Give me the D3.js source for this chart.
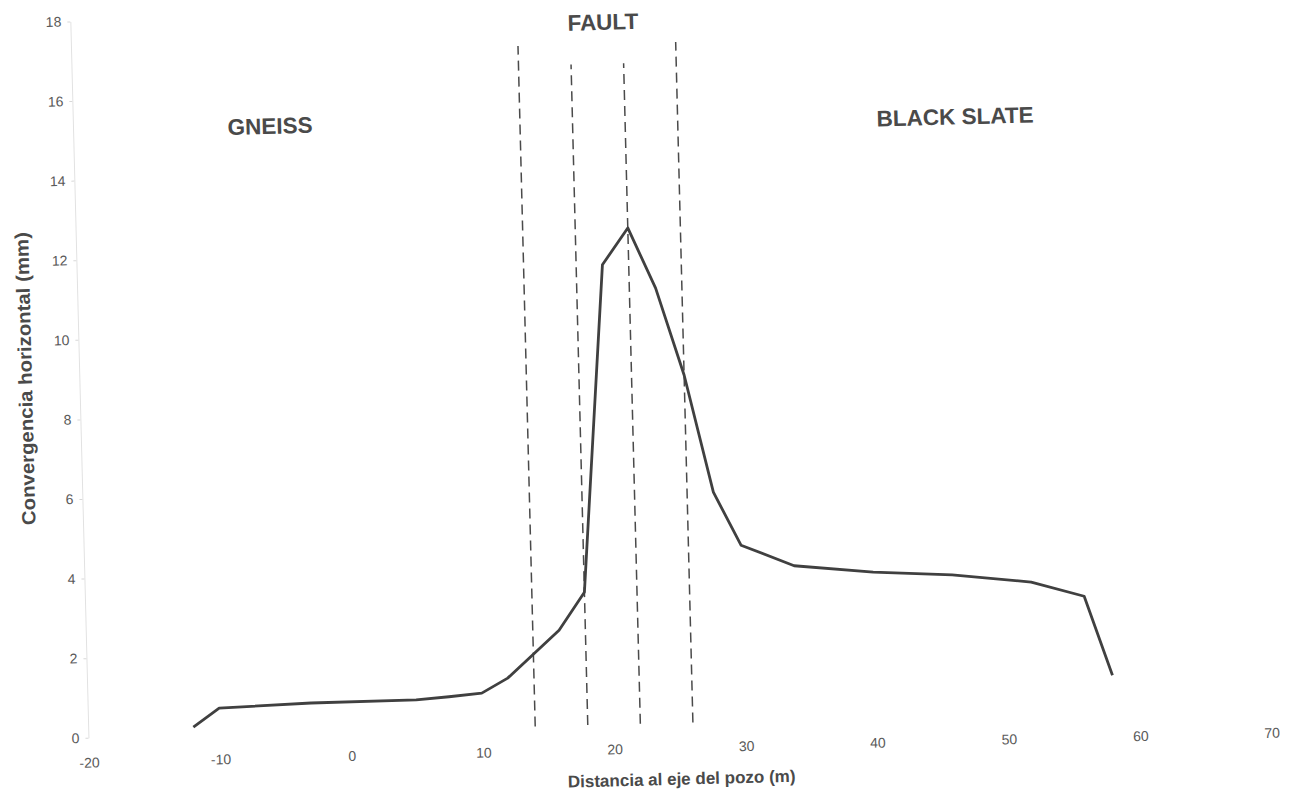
<!DOCTYPE html>
<html>
<head>
<meta charset="utf-8">
<script src="https://cdn.jsdelivr.net/npm/d3@7"></script>
<style>
  html, body { margin: 0; padding: 0; background: #fff; }
  svg { display: block; font-family: "Liberation Sans", Arial, sans-serif; }
  .axis .domain { stroke: #e2e2e2; }
  .axis line { stroke: #d8d8d8; }
  .axis text { fill: #5a5a5a; font-size: 14px; }
</style>
</head>
<body>
<div id="chart"></div>
<script>
/* Convergencia horizontal vs distancia al eje del pozo (scan, slightly tilted) */

const distance    = [-12, -10, -3, 5, 7.5, 10, 12, 16, 18, 20, 22, 24, 26, 28, 30, 34, 40, 46, 52, 56, 58];
const convergence = [0.2, 0.66, 0.73, 0.74, 0.8, 0.87, 1.23, 2.4, 3.34, 11.55, 12.46, 10.93, 8.73, 5.77, 4.42, 3.87, 3.66, 3.54, 3.31, 2.92, 0.92];

const faultLines = [14, 18, 22, 26];
const faultTops  = [17.1, 16.6, 16.6, 17.1];

const xTicks = [-20, -10, 0, 10, 20, 30, 40, 50, 60, 70];
const yTicks = [0, 2, 4, 6, 8, 10, 12, 14, 16, 18];

const zoneLabels = ["GNEISS", "FAULT", "BLACK SLATE"];
const zoneX      = [-5.0, 20.5, 47.1];
const zoneY      = [15.2, 17.6, 15.0];

const W = 1292, H = 795;
const svg = d3.select("#chart").append("svg").attr("width", W).attr("height", H);
svg.append("rect").attr("width", W).attr("height", H).attr("fill", "#fff");

/* the scanned page is tilted a little */
const g = svg.append("g").attr("transform", "rotate(-1.45, 646, 397)");

const x = d3.scaleLinear().domain([-20, 70]).range([80, 1263]);
const y = d3.scaleLinear().domain([0, 18]).range([723.5, 7]);

/* ejes */
g.append("g").attr("class", "axis").attr("transform", `translate(${x(-20)},0)`)
  .call(d3.axisLeft(y).tickValues(yTicks).tickSizeInner(3).tickSizeOuter(0).tickPadding(6).tickFormat(d => d));

const gx = g.append("g").attr("class", "axis").attr("transform", `translate(0,${y(0)})`)
  .call(d3.axisBottom(x).tickValues(xTicks).tickSize(0).tickPadding(20).tickFormat(d => String(d)));
gx.select(".domain").remove();

/* líneas de falla */
g.append("g").selectAll("line").data(faultLines).join("line")
  .attr("x1", d => x(d)).attr("x2", d => x(d))
  .attr("y1", y(0)).attr("y2", (d, i) => y(faultTops[i]))
  .attr("stroke", "#4a4a4a").attr("stroke-width", 1.5).attr("stroke-dasharray", "10 6");

/* curva */
const line = d3.line().x((d, i) => x(distance[i])).y(d => y(d));
g.append("path").attr("d", line(convergence))
  .attr("fill", "none").attr("stroke", "#404040").attr("stroke-width", 2.8)
  .attr("stroke-linejoin", "round");

/* etiquetas de zona */
g.append("g").selectAll("text").data(zoneLabels).join("text")
  .attr("x", (d, i) => x(zoneX[i])).attr("y", (d, i) => y(zoneY[i]))
  .attr("text-anchor", "middle").attr("dominant-baseline", "middle")
  .attr("font-size", 22.5).attr("font-weight", "bold").attr("fill", "#4a4a4a")
  .text(d => d);

/* títulos */
g.append("text").attr("transform", "translate(27.5,363) rotate(-90)")
  .attr("text-anchor", "middle").attr("dominant-baseline", "middle")
  .attr("font-size", 19).attr("font-weight", "bold").attr("fill", "#4a4a4a")
  .attr("textLength", 293).attr("lengthAdjust", "spacingAndGlyphs")
  .text("Convergencia horizontal (mm)");

g.append("text").attr("x", 672).attr("y", 781)
  .attr("text-anchor", "middle").attr("dominant-baseline", "middle")
  .attr("font-size", 17).attr("font-weight", "bold").attr("fill", "#4a4a4a")
  .text("Distancia al eje del pozo (m)");
</script>
</body>
</html>
